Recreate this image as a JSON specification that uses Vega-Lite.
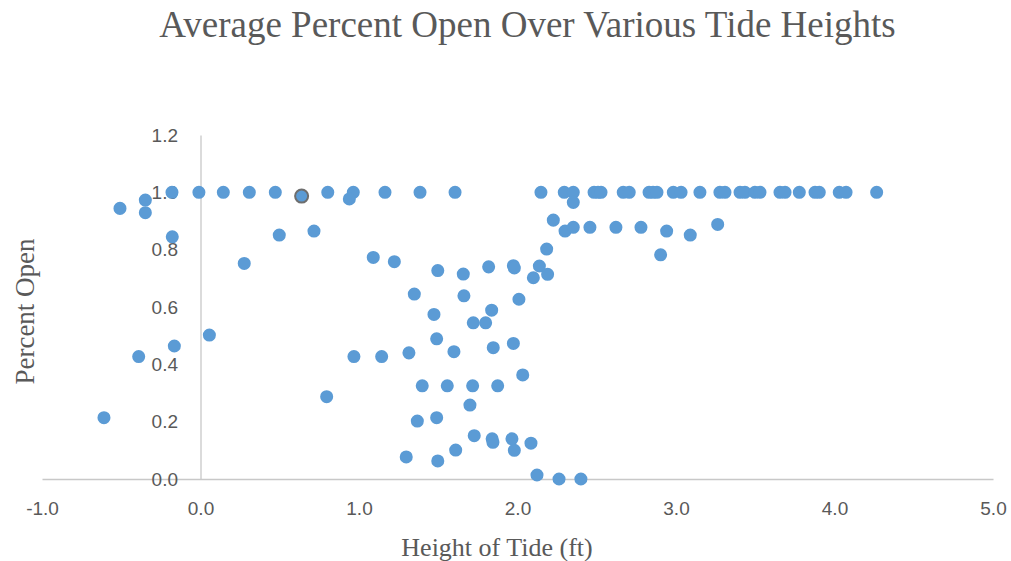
{
  "$schema": "https://vega.github.io/schema/vega-lite/v6.json",
  "autosize": "none",
  "width": 951,
  "height": 344,
  "padding": {"left": 42, "top": 135, "right": 18, "bottom": 82},
  "background": "white",
  "config": {"view": {"stroke": null}},
  "title": {
    "text": "Average Percent Open Over Various Tide Heights",
    "font": "Liberation Serif",
    "fontSize": 37,
    "fontWeight": "normal",
    "color": "#595959",
    "anchor": "middle",
    "offset": 81,
    "dx": 10
  },
  "data": {
    "values": [
      {"tide": -0.18, "open": 1.0}, {"tide": -0.01, "open": 1.0}, {"tide": 0.144, "open": 1.0}, {"tide": 0.308, "open": 1.0},
      {"tide": 0.472, "open": 1.0}, {"tide": 0.803, "open": 1.0}, {"tide": 0.964, "open": 1.0}, {"tide": 1.164, "open": 1.0},
      {"tide": 1.385, "open": 1.0}, {"tide": 1.606, "open": 1.0}, {"tide": 2.148, "open": 1.0}, {"tide": 2.295, "open": 1.0},
      {"tide": 2.352, "open": 1.0}, {"tide": 2.483, "open": 1.0}, {"tide": 2.508, "open": 1.0}, {"tide": 2.527, "open": 1.0},
      {"tide": 2.667, "open": 1.0}, {"tide": 2.705, "open": 1.0}, {"tide": 2.83, "open": 1.0}, {"tide": 2.855, "open": 1.0},
      {"tide": 2.88, "open": 1.0}, {"tide": 2.983, "open": 1.0}, {"tide": 3.032, "open": 1.0}, {"tide": 3.151, "open": 1.0},
      {"tide": 3.277, "open": 1.0}, {"tide": 3.309, "open": 1.0}, {"tide": 3.404, "open": 1.0}, {"tide": 3.435, "open": 1.0},
      {"tide": 3.498, "open": 1.0}, {"tide": 3.53, "open": 1.0}, {"tide": 3.656, "open": 1.0}, {"tide": 3.688, "open": 1.0},
      {"tide": 3.778, "open": 1.0}, {"tide": 3.877, "open": 1.0}, {"tide": 3.904, "open": 1.0}, {"tide": 4.03, "open": 1.0},
      {"tide": 4.073, "open": 1.0}, {"tide": 4.266, "open": 1.0},
      {"tide": 0.638, "open": 0.987, "hl": 1},
      {"tide": 0.939, "open": 0.977}, {"tide": -0.508, "open": 0.944}, {"tide": -0.348, "open": 0.973}, {"tide": -0.348, "open": 0.929},
      {"tide": -0.178, "open": 0.845}, {"tide": 0.497, "open": 0.851}, {"tide": 0.716, "open": 0.865}, {"tide": 0.276, "open": 0.752},
      {"tide": 1.09, "open": 0.773}, {"tide": 2.352, "open": 0.965}, {"tide": 2.226, "open": 0.903}, {"tide": 2.3, "open": 0.865},
      {"tide": 2.352, "open": 0.878}, {"tide": 2.457, "open": 0.878}, {"tide": 2.621, "open": 0.878}, {"tide": 2.779, "open": 0.878},
      {"tide": 2.941, "open": 0.865}, {"tide": 3.09, "open": 0.851}, {"tide": 3.263, "open": 0.888}, {"tide": 2.903, "open": 0.782},
      {"tide": 2.184, "open": 0.802}, {"tide": 1.223, "open": 0.758}, {"tide": 1.497, "open": 0.727}, {"tide": 1.658, "open": 0.715},
      {"tide": 1.818, "open": 0.74}, {"tide": 1.974, "open": 0.744}, {"tide": 1.98, "open": 0.736}, {"tide": 2.138, "open": 0.743},
      {"tide": 2.19, "open": 0.714}, {"tide": 2.1, "open": 0.702}, {"tide": 1.349, "open": 0.645}, {"tide": 1.662, "open": 0.639},
      {"tide": 2.009, "open": 0.627}, {"tide": 1.473, "open": 0.574}, {"tide": 1.837, "open": 0.589}, {"tide": 1.721, "open": 0.545},
      {"tide": 1.799, "open": 0.545}, {"tide": 1.49, "open": 0.489}, {"tide": 1.599, "open": 0.444}, {"tide": 1.847, "open": 0.458},
      {"tide": 1.974, "open": 0.473}, {"tide": 1.143, "open": 0.427}, {"tide": 1.315, "open": 0.44}, {"tide": 1.399, "open": 0.325},
      {"tide": 1.557, "open": 0.325}, {"tide": 1.717, "open": 0.325}, {"tide": 1.875, "open": 0.325}, {"tide": 2.033, "open": 0.363},
      {"tide": 1.7, "open": 0.258}, {"tide": 1.368, "open": 0.202}, {"tide": 1.49, "open": 0.214}, {"tide": 1.727, "open": 0.151},
      {"tide": 1.84, "open": 0.14}, {"tide": 1.845, "open": 0.128}, {"tide": 1.965, "open": 0.14}, {"tide": 1.98, "open": 0.1},
      {"tide": 2.085, "open": 0.125}, {"tide": 1.298, "open": 0.077}, {"tide": 1.497, "open": 0.063}, {"tide": 1.61, "open": 0.101},
      {"tide": 2.123, "open": 0.014}, {"tide": 2.262, "open": 0.0}, {"tide": 2.4, "open": 0.0},
      {"tide": -0.609, "open": 0.214}, {"tide": -0.39, "open": 0.427}, {"tide": -0.165, "open": 0.464}, {"tide": 0.056, "open": 0.502},
      {"tide": 0.796, "open": 0.287}, {"tide": 0.968, "open": 0.427}
    ]
  },
  "mark": {"type": "circle", "size": 170, "opacity": 1, "color": "#5B9BD5"},
  "encoding": {
    "x": {
      "field": "tide", "type": "quantitative",
      "scale": {"domain": [-1, 5], "nice": false, "zero": false},
      "axis": {
        "title": "Height of Tide (ft)",
        "values": [-1, 0, 1, 2, 3, 4, 5],
        "labelExpr": "datum.value < 0 ? '-' + format(-datum.value, '.1f') : format(datum.value, '.1f')",
        "grid": false, "ticks": false,
        "domainColor": "#C8C8C8", "domainWidth": 1.3,
        "labelFont": "Liberation Sans", "labelFontSize": 19, "labelColor": "#595959",
        "labelPadding": 20, "labelFlush": false, "labelOverlap": false,
        "titleFont": "Liberation Serif", "titleFontSize": 26, "titleFontWeight": "normal", "titleColor": "#595959",
        "titleX": 454.5, "titleY": 76, "titleBaseline": "alphabetic", "titleAlign": "center"
      }
    },
    "y": {
      "field": "open", "type": "quantitative",
      "scale": {"domain": [0, 1.2], "nice": false},
      "axis": {
        "title": "Percent Open",
        "values": [0, 0.2, 0.4, 0.6, 0.8, 1.0, 1.2],
        "format": ".1f",
        "offset": -158.5,
        "grid": false, "ticks": false,
        "domainColor": "#C8C8C8", "domainWidth": 1.3,
        "labelFont": "Liberation Sans", "labelFontSize": 19, "labelColor": "#595959",
        "labelPadding": 23, "labelFlush": false, "labelOverlap": false,
        "titleFont": "Liberation Serif", "titleFontSize": 27, "titleFontWeight": "normal", "titleColor": "#595959",
        "titleX": -167, "titleY": 176, "titleBaseline": "alphabetic", "titleAlign": "center", "titleAngle": 270
      }
    },
    "stroke": {"condition": {"test": "datum.hl == 1", "value": "#6E6E6E"}, "value": "#5B9BD5"},
    "strokeWidth": {"condition": {"test": "datum.hl == 1", "value": 2}, "value": 0}
  }
}
